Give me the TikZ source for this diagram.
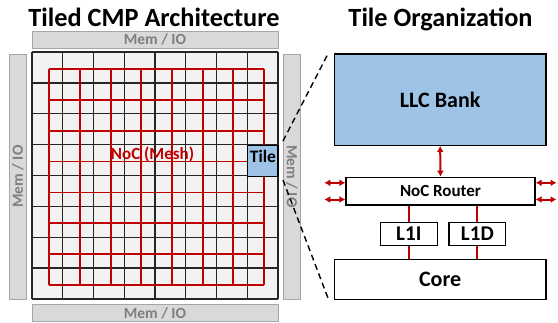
\documentclass[tikz,border=0pt]{standalone}
\usepackage{fontspec}
\setmainfont{Carlito}
\usetikzlibrary{arrows.meta,calc}
\definecolor{gridfill}{HTML}{F2F2F2}
\definecolor{barfill}{HTML}{D9D9D9}
\definecolor{barline}{HTML}{A6A6A6}
\definecolor{bartext}{HTML}{7F7F7F}
\definecolor{tileblue}{HTML}{9DC3E6}
\definecolor{nocred}{HTML}{C00000}
\tikzset{
  membar/.style={draw=barline, fill=barfill, line width=0.9pt, inner sep=0pt, font=\bfseries\fontsize{15.5}{15.5}\selectfont, text=bartext},
  blkbox/.style={draw=black, line width=1.2pt, inner sep=0pt},
  titletext/.style={font=\bfseries\fontsize{26.3}{26.3}\selectfont, inner sep=0pt, anchor=base},
  meshline/.style={draw=nocred, line width=1.8pt},
  gridline/.style={draw=black!85, line width=1.3pt},
  redlink/.style={draw=nocred, line width=2pt},
  dbl/.style={draw=nocred, line width=2pt, {Latex[length=6pt,width=7pt]}-{Latex[length=6pt,width=7pt]}},
  zoomline/.style={draw=black, line width=1.4pt, dash pattern=on 6pt off 4pt}
}
\begin{document}
\begin{tikzpicture}[x=1pt,y=-1pt]
\useasboundingbox (0,0) rectangle (558,322);
% titles
\node[titletext] (t1) at (154,26.7) {Tiled CMP Architecture};
\node[titletext] (t2) at (440.5,26.7) {Tile Organization};
% Mem/IO bars
\node[membar, minimum width=246pt, minimum height=17.3pt] (memtop) at (155,39.7) {Mem / IO};
\node[membar, minimum width=246pt, minimum height=17pt] (membot) at (155,313.2) {Mem / IO};
\node[membar, minimum width=245pt, minimum height=17.7pt, rotate=90] (memleft) at (17.9,176.5) {Mem / IO};
\node[membar, minimum width=245pt, minimum height=17.4pt, rotate=-90] (memright) at (292,176.5) {Mem / IO};
% grid
\fill[gridfill] (32,52) rectangle (278,299);
\foreach \i in {0,...,8} {
  \draw[gridline] ({32+\i*30.75},52) -- ({32+\i*30.75},299);
  \draw[gridline] (32,{52+\i*30.875}) -- (278,{52+\i*30.875});
}
% mesh
\foreach \i in {0,...,7} {
  \draw[meshline] ({49.3+\i*30.67},69) -- ({49.3+\i*30.67},285);
  \draw[meshline] (49.3,{69+\i*30.86}) -- (264,{69+\i*30.86});
}
\node[text=nocred, font=\bfseries\fontsize{17}{17}\selectfont, inner sep=0pt] (noc) at (152.5,154.5) {NoC (Mesh)};
% tile
\node[draw=black, line width=1.2pt, fill=tileblue, minimum width=30.75pt, minimum height=30.875pt, inner sep=0pt] (tile) at (262.6,160.8) {};
\node[font=\bfseries\fontsize{17.5}{17.5}\selectfont, inner sep=0pt] (tiletxt) at (263,156) {Tile};
% zoom lines
\coordinate (za) at (283,141);
\coordinate (zb) at (283,180);
% tile organization
\node[blkbox, fill=tileblue, minimum width=211.7pt, minimum height=91.3pt, font=\bfseries\fontsize{22}{22}\selectfont] (llc) at (440.15,99.65) {LLC Bank};
\node[blkbox, fill=white, minimum width=189pt, minimum height=27.7pt, font=\bfseries\fontsize{17}{17}\selectfont] (router) at (440.5,191.15) {NoC Router};
\node[blkbox, fill=white, minimum width=211.7pt, minimum height=40pt, font=\bfseries\fontsize{22}{22}\selectfont] (core) at (440.15,279.3) {Core};
\coordinate (l1ic) at (408.8,233.8);
\coordinate (l1dc) at (477.35,233.8);
\draw[redlink] (router.south -| l1ic) -- (core.north -| l1ic);
\draw[redlink] (router.south -| l1dc) -- (core.north -| l1dc);
\node[blkbox, fill=white, minimum width=57pt, minimum height=23pt, font=\bfseries\fontsize{21}{21}\selectfont] (l1i) at (l1ic) {L1I};
\node[blkbox, fill=white, minimum width=56.7pt, minimum height=23pt, font=\bfseries\fontsize{21}{21}\selectfont] (l1d) at (l1dc) {L1D};
\draw[dbl] (llc.south) -- (router.north);
\coordinate (la) at (324.3,182.8);
\coordinate (lb) at (324.3,199.5);
\coordinate (ra) at (556.5,182.8);
\coordinate (rb) at (556.5,199.5);
\draw[dbl] (la) -- (router.west |- la);
\draw[dbl] (lb) -- (router.west |- lb);
\draw[dbl] (router.east |- ra) -- (ra);
\draw[dbl] (router.east |- rb) -- (rb);
\draw[zoomline] (za) -- ($(llc.north west)+(-5,-1)$);
\draw[zoomline] (zb) -- ($(core.south west)+(-5,0)$);
\end{tikzpicture}
\end{document}
